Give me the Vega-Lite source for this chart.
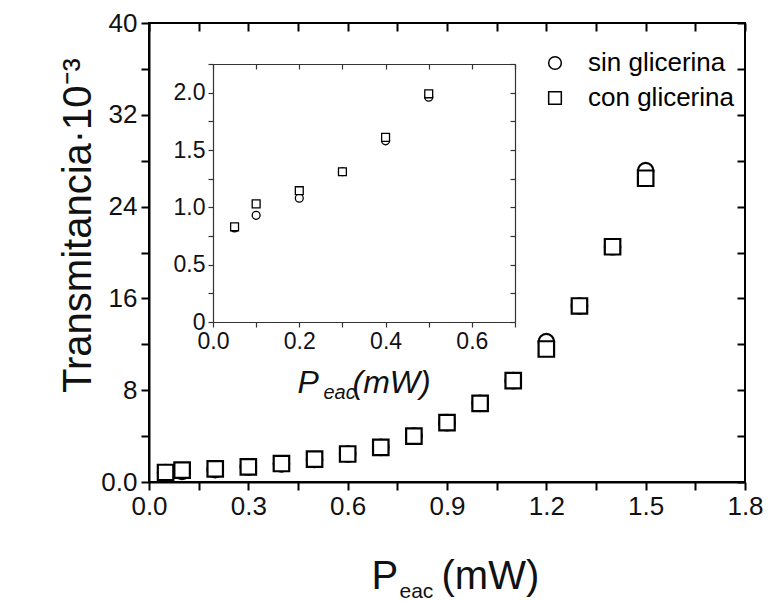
{
  "$schema": "https://vega.github.io/schema/vega-lite/v6.json",
  "width": 596,
  "height": 459,
  "autosize": {"type": "none"},
  "padding": {"left": 149, "top": 23, "right": 25, "bottom": 119},
  "background": "white",
  "config": {
    "font": "Liberation Sans",
    "view": {"stroke": "black", "strokeWidth": 2},
    "axis": {"grid": false, "labelColor": "#111", "titleColor": "#111", "titleFontWeight": "normal", "labelFlush": false, "labelOverlap": false, "domainColor": "black", "tickColor": "black"}
  },
  "datasets": {
    "t": [
      {"x": 0.05, "y": 0.82, "series": "sin glicerina"},
      {"x": 0.1, "y": 0.93, "series": "sin glicerina"},
      {"x": 0.2, "y": 1.08, "series": "sin glicerina"},
      {"x": 0.3, "y": 1.31, "series": "sin glicerina"},
      {"x": 0.4, "y": 1.58, "series": "sin glicerina"},
      {"x": 0.5, "y": 1.96, "series": "sin glicerina"},
      {"x": 0.6, "y": 2.44, "series": "sin glicerina"},
      {"x": 0.7, "y": 3.02, "series": "sin glicerina"},
      {"x": 0.8, "y": 4.0, "series": "sin glicerina"},
      {"x": 0.9, "y": 5.17, "series": "sin glicerina"},
      {"x": 1.0, "y": 6.86, "series": "sin glicerina"},
      {"x": 1.1, "y": 8.83, "series": "sin glicerina"},
      {"x": 1.2, "y": 12.23, "series": "sin glicerina"},
      {"x": 1.3, "y": 15.34, "series": "sin glicerina"},
      {"x": 1.4, "y": 20.5, "series": "sin glicerina"},
      {"x": 1.5, "y": 27.13, "series": "sin glicerina"},
      {"x": 0.05, "y": 0.83, "series": "con glicerina"},
      {"x": 0.1, "y": 1.03, "series": "con glicerina"},
      {"x": 0.2, "y": 1.145, "series": "con glicerina"},
      {"x": 0.3, "y": 1.31, "series": "con glicerina"},
      {"x": 0.4, "y": 1.61, "series": "con glicerina"},
      {"x": 0.5, "y": 1.99, "series": "con glicerina"},
      {"x": 0.6, "y": 2.44, "series": "con glicerina"},
      {"x": 0.7, "y": 3.02, "series": "con glicerina"},
      {"x": 0.8, "y": 4.0, "series": "con glicerina"},
      {"x": 0.9, "y": 5.17, "series": "con glicerina"},
      {"x": 1.0, "y": 6.86, "series": "con glicerina"},
      {"x": 1.1, "y": 8.83, "series": "con glicerina"},
      {"x": 1.2, "y": 11.59, "series": "con glicerina"},
      {"x": 1.3, "y": 15.34, "series": "con glicerina"},
      {"x": 1.4, "y": 20.5, "series": "con glicerina"},
      {"x": 1.5, "y": 26.47, "series": "con glicerina"}
    ]
  },
  "data": {"name": "t"},
  "resolve": {
    "scale": {"x": "independent", "y": "independent", "shape": "independent"},
    "axis": {"x": "independent", "y": "independent"},
    "legend": {"shape": "independent"}
  },
  "layer": [
    {
      "mark": {"type": "point", "fill": "white", "stroke": "black", "strokeWidth": 2.2, "size": 240, "opacity": 1},
      "encoding": {
        "x": {
          "field": "x", "type": "quantitative",
          "scale": {"domain": [0, 1.8], "nice": false, "zero": false},
          "axis": {
            "orient": "bottom",
            "values": [0, 0.15, 0.3, 0.45, 0.6, 0.75, 0.9, 1.05, 1.2, 1.35, 1.5, 1.65, 1.8],
            "labelExpr": "round(datum.value*100) % 30 == 0 ? format(datum.value, '.1f') : ''",
            "domainWidth": 2, "tickWidth": 2, "tickSize": 8,
            "labelFontSize": 26, "labelPadding": 3,
            "title": "P", "titleFontSize": 40, "titleX": 222, "titleY": 106,
            "titleAlign": "left", "titleBaseline": "alphabetic"
          }
        },
        "y": {
          "field": "y", "type": "quantitative",
          "scale": {"domain": [0, 40], "nice": false, "zero": false},
          "axis": {
            "orient": "left",
            "values": [0, 4, 8, 12, 16, 20, 24, 28, 32, 36, 40],
            "labelExpr": "datum.value == 0 ? '0.0' : (datum.value % 8 == 0 ? datum.label : '')",
            "domainWidth": 2, "tickWidth": 2, "tickSize": 8,
            "labelFontSize": 26, "labelPadding": 4,
            "title": "Transmitancia·10⁻³", "titleFontSize": 40, "titleAngle": -90,
            "titleX": -59, "titleY": 202, "titleAlign": "center", "titleBaseline": "alphabetic"
          }
        },
        "shape": {
          "field": "series", "type": "nominal",
          "scale": {"domain": ["sin glicerina", "con glicerina"], "range": ["circle", "square"]},
          "legend": {
            "orient": "none", "legendX": 393, "legendY": 27, "title": null,
            "symbolSize": 160, "symbolStrokeWidth": 1.5,
            "labelFontSize": 26, "labelOffset": 20, "rowPadding": 9
          }
        }
      }
    },
    {
      "mark": {"type": "point", "opacity": 0},
      "encoding": {
        "x": {
          "field": "x", "type": "quantitative",
          "scale": {"domain": [0, 1.8], "nice": false, "zero": false},
          "axis": {
            "orient": "top",
            "values": [0, 0.15, 0.3, 0.45, 0.6, 0.75, 0.9, 1.05, 1.2, 1.35, 1.5, 1.65, 1.8],
            "labels": false, "domain": false, "tickWidth": 2, "tickSize": -8,
            "title": "(mW)", "titleFontSize": 40, "titleX": 292, "titleY": 565,
            "titleAlign": "left", "titleBaseline": "alphabetic", "titleAngle": 0
          }
        },
        "y": {
          "field": "y", "type": "quantitative",
          "scale": {"domain": [0, 40], "nice": false, "zero": false},
          "axis": {
            "orient": "right",
            "values": [0, 4, 8, 12, 16, 20, 24, 28, 32, 36, 40],
            "labels": false, "domain": false, "tickWidth": 2, "tickSize": -8,
            "title": "eac", "titleFontSize": 21, "titleAngle": 0, "titleX": -346, "titleY": 574,
            "titleAlign": "left", "titleBaseline": "alphabetic"
          }
        }
      }
    },
    {
      "transform": [{"filter": "datum.x <= 0.5"}],
      "mark": {"type": "point", "fill": "white", "stroke": "black", "strokeWidth": 1.3, "size": 62, "opacity": 1},
      "encoding": {
        "x": {
          "field": "x", "type": "quantitative",
          "scale": {"domain": [0, 0.7], "range": [64, 366], "nice": false, "zero": false},
          "axis": {
            "orient": "bottom", "offset": -160,
            "values": [0, 0.1, 0.2, 0.3, 0.4, 0.5, 0.6, 0.7],
            "labelExpr": "round(datum.value*10) % 2 == 0 ? format(datum.value, '.1f') : ''",
            "domainWidth": 1.2, "domainColor": "#333", "tickColor": "#333", "tickWidth": 1.2, "tickSize": 5,
            "labelFontSize": 23, "labelPadding": 3,
            "title": "P", "titleFontSize": 32, "titleFontStyle": "italic", "titleX": 148, "titleY": 70,
            "titleAlign": "left", "titleBaseline": "alphabetic"
          }
        },
        "y": {
          "field": "y", "type": "quantitative",
          "scale": {"domain": [0, 2.25], "range": [299, 41], "nice": false, "zero": false},
          "axis": {
            "orient": "left", "offset": -64,
            "values": [0, 0.25, 0.5, 0.75, 1, 1.25, 1.5, 1.75, 2, 2.25],
            "labelExpr": "datum.value == 0 ? '0' : (round(datum.value*100) % 50 == 0 ? format(datum.value, '.1f') : '')",
            "domainWidth": 1.2, "domainColor": "#333", "tickColor": "#333", "tickWidth": 1.2, "tickSize": 5,
            "labelFontSize": 23, "labelPadding": 3,
            "title": "eac", "titleFontSize": 20, "titleFontStyle": "italic", "titleAngle": 0,
            "titleX": 110, "titleY": 375, "titleAlign": "left", "titleBaseline": "alphabetic"
          }
        },
        "shape": {
          "field": "series", "type": "nominal",
          "scale": {"domain": ["sin glicerina", "con glicerina"], "range": ["circle", "square"]},
          "legend": null
        }
      }
    },
    {
      "transform": [{"filter": "datum.x <= 0.5"}],
      "mark": {"type": "point", "opacity": 0},
      "encoding": {
        "x": {
          "field": "x", "type": "quantitative",
          "scale": {"domain": [0, 0.7], "range": [64, 366], "nice": false, "zero": false},
          "axis": {
            "orient": "top", "offset": -41,
            "values": [0, 0.1, 0.2, 0.3, 0.4, 0.5, 0.6, 0.7],
            "labels": false,
            "domainWidth": 1.2, "domainColor": "#333", "tickColor": "#333", "tickWidth": 1.2, "tickSize": -5,
            "title": "(mW)", "titleFontSize": 32, "titleFontStyle": "italic", "titleX": 203, "titleY": 328,
            "titleAlign": "left", "titleBaseline": "alphabetic", "titleAngle": 0
          }
        },
        "y": {
          "field": "y", "type": "quantitative",
          "scale": {"domain": [0, 2.25], "range": [299, 41], "nice": false, "zero": false},
          "axis": {
            "orient": "right", "offset": -230,
            "values": [0, 0.25, 0.5, 0.75, 1, 1.25, 1.5, 1.75, 2, 2.25],
            "labels": false,
            "domainWidth": 1.2, "domainColor": "#333", "tickColor": "#333", "tickWidth": 1.2, "tickSize": -5,
            "title": null
          }
        }
      }
    }
  ]
}
